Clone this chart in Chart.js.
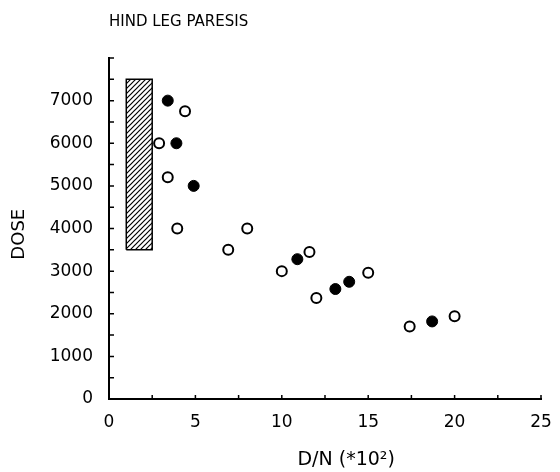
<!DOCTYPE html>
<html>
<head>
<meta charset="utf-8">
<script src="https://cdn.jsdelivr.net/npm/chart.js@4"></script>
<style>
  body { margin: 0; background: #fff; }
</style>
</head>
<body>
<canvas id="grafico" width="560" height="472"></canvas>
<script>
// hatched range
const rangoX = [1, 2.5];
const rangoY = [3500, 7500];

// open circles
const abiertosX = [2.9, 4.4, 3.4, 3.95, 6.9, 8, 10, 11.6, 12, 15, 17.4, 20];
const abiertosY = [6000, 6750, 5200, 4000, 3500, 4000, 3000, 3450, 2370, 2960, 1700, 1940];

// filled circles
const llenosX = [3.4, 3.9, 4.9, 10.9, 13.1, 13.9, 18.7];
const llenosY = [7000, 6000, 5000, 3280, 2580, 2750, 1820];

const ticksX = [0, 5, 10, 15, 20, 25];
const ticksY = [0, 1000, 2000, 3000, 4000, 5000, 6000, 7000];

const fuente = "'DejaVu Sans', sans-serif";

function patronRayado() {
    const c = document.createElement('canvas');
    c.width = 5;
    c.height = 5;
    const ctx = c.getContext('2d');
    ctx.fillStyle = '#fff';
    ctx.fillRect(0, 0, 5, 5);
    ctx.strokeStyle = '#000';
    ctx.lineWidth = 1.2;
    ctx.beginPath();
    ctx.moveTo(-1, 6); ctx.lineTo(6, -1);
    ctx.moveTo(-1, 1); ctx.lineTo(1, -1);
    ctx.moveTo(4, 6); ctx.lineTo(6, 4);
    ctx.stroke();
    return ctx.createPattern(c, 'repeat');
}

const rectangulo = [
    { x: rangoX[0], y: rangoY[0] },
    { x: rangoX[0], y: rangoY[1] },
    { x: rangoX[1], y: rangoY[1] },
    { x: rangoX[1], y: rangoY[0] },
    { x: rangoX[0], y: rangoY[0] }
];

// ticks pointing into the plot
const ticksInternos = {
    id: 'ticksInternos',
    afterDraw(chart) {
        const ctx = chart.ctx;
        const area = chart.chartArea;
        ctx.save();
        ctx.strokeStyle = '#000';
        ctx.lineWidth = 1.5;
        ctx.beginPath();
        chart.scales.y.ticks.forEach(t => {
            const py = chart.scales.y.getPixelForValue(t.value);
            ctx.moveTo(area.left, py);
            ctx.lineTo(area.left + 5, py);
        });
        chart.scales.x.ticks.forEach(t => {
            const px = chart.scales.x.getPixelForValue(t.value);
            ctx.moveTo(px, area.bottom);
            ctx.lineTo(px, area.bottom - 4);
        });
        ctx.stroke();
        ctx.restore();
    }
};

new Chart(document.getElementById('grafico'), {
    type: 'scatter',
    data: {
        datasets: [
            {
                data: rectangulo,
                showLine: true,
                fill: 'shape',
                backgroundColor: patronRayado(),
                borderColor: '#000',
                borderWidth: 1.5,
                pointRadius: 0,
                tension: 0
            },
            {
                data: abiertosX.map((x, i) => ({ x: x, y: abiertosY[i] })),
                pointRadius: 5,
                pointBorderWidth: 2,
                pointBackgroundColor: '#fff',
                pointBorderColor: '#000'
            },
            {
                data: llenosX.map((x, i) => ({ x: x, y: llenosY[i] })),
                pointRadius: 5.5,
                pointBorderWidth: 1,
                pointBackgroundColor: '#000',
                pointBorderColor: '#000'
            }
        ]
    },
    options: {
        responsive: false,
        animation: false,
        devicePixelRatio: 1,
        layout: { padding: { left: 0, right: 19, top: 0, bottom: 0 } },
        plugins: {
            legend: { display: false },
            tooltip: { enabled: false },
            title: {
                display: true,
                text: 'HIND LEG PARESIS',
                align: 'start',
                fullSize: false,
                color: '#000',
                font: { family: fuente, size: 15, weight: 'normal' },
                padding: { top: 13, bottom: 27 }
            }
        },
        scales: {
            x: {
                type: 'linear',
                min: 0,
                max: 25,
                afterFit(s) {
                    s.height = 73;
                    s.paddingLeft = 0;
                    s.paddingRight = 0;
                },
                grid: { display: false, drawTicks: false },
                border: { display: true, color: '#000', width: 2 },
                ticks: {
                    stepSize: 2.5,
                    autoSkip: false,
                    maxRotation: 0,
                    padding: 13,
                    color: '#000',
                    font: { family: fuente, size: 17 },
                    callback: v => ticksX.includes(v) ? String(v) : ''
                },
                title: {
                    display: true,
                    text: '       D/N (*10²)',
                    color: '#000',
                    font: { family: fuente, size: 19 },
                    padding: 1
                }
            },
            y: {
                min: 0,
                max: 8000,
                afterFit(s) { s.width = 109; },
                grid: { display: false, drawTicks: false },
                border: { display: true, color: '#000', width: 2 },
                ticks: {
                    stepSize: 500,
                    autoSkip: false,
                    padding: 16,
                    color: '#000',
                    font: { family: fuente, size: 17 },
                    callback: v => ticksY.includes(v) ? String(v) : ''
                },
                title: {
                    display: true,
                    text: 'DOSE  ',
                    color: '#000',
                    font: { family: fuente, size: 18 },
                    padding: 9
                }
            }
        }
    },
    plugins: [ticksInternos]
});
</script>
</body>
</html>
